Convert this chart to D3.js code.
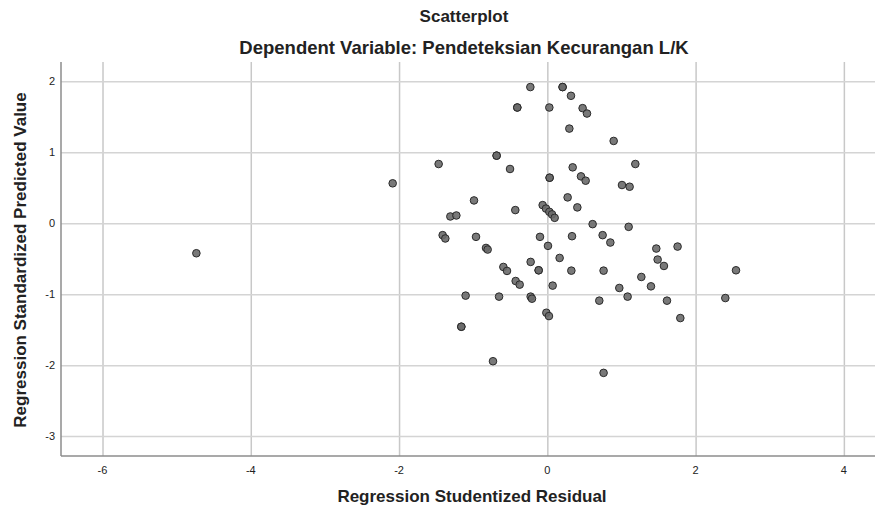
<!DOCTYPE html>
<html>
<head>
<meta charset="utf-8">
<script src="https://cdn.jsdelivr.net/npm/d3@7"></script>
<style>
  body { margin: 0; background: #fff; }
  text { font-family: "Liberation Sans", Arial, sans-serif; fill: #222; }
</style>
</head>
<body>
<svg id="chart" width="875" height="508"></svg>
<script>
// residual (x) and predicted value (y)
const residual = [
  -0.229, 0.206, 0.206, 0.319, -0.405, -0.405, 0.027, 0.476, 0.535, 0.297,
  0.895, -0.684, -0.684, -1.466, 1.187, -0.503, 0.342, 0.454, 0.517, 0.031,
  0.031, 1.007, 1.110, -2.086, -0.989, 0.274, 0.405, -0.432, -1.308, -1.227,
  -0.063, -0.018, 0.027, 0.063, 0.099, 0.611, 1.097, -1.412, -1.376, -0.962,
  -0.827, -0.805, -0.099, 0.333, 0.009, 0.166, -0.225, -0.117, -0.117, 0.324,
  -0.593, -0.544, -0.427, -0.373, 0.072, -1.102, -0.651, -0.225, -0.207, -0.013,
  0.022, -1.160, -1.160, -0.733, 0.746, 0.850, 1.470, 1.757, 1.488, 1.573,
  0.759, 1.268, 0.971, 1.398, 1.083, 0.701, 1.614, 1.794, 2.545, 2.401,
  0.759, -4.734
];
const predicted = [
  1.917, 1.917, 1.917, 1.794, 1.629, 1.629, 1.629, 1.620, 1.544, 1.332,
  1.158, 0.951, 0.951, 0.833, 0.833, 0.763, 0.786, 0.659, 0.598, 0.640,
  0.640, 0.537, 0.513, 0.561, 0.320, 0.363, 0.222, 0.184, 0.094, 0.108,
  0.254, 0.205, 0.160, 0.124, 0.075, -0.014, -0.052, -0.169, -0.216, -0.193,
  -0.349, -0.372, -0.193, -0.184, -0.320, -0.490, -0.546, -0.664, -0.664, -0.669,
  -0.617, -0.673, -0.815, -0.866, -0.880, -1.021, -1.035, -1.035, -1.064, -1.262,
  -1.309, -1.459, -1.459, -1.945, -0.169, -0.273, -0.358, -0.330, -0.513, -0.603,
  -0.669, -0.758, -0.913, -0.890, -1.035, -1.092, -1.092, -1.337, -0.664, -1.055,
  -2.109, -0.424
];
const xTicks = [-6, -4, -2, 0, 2, 4];
const yTicks = [-3, -2, -1, 0, 1, 2];

const points = residual.map((r, i) => ({x: r, y: predicted[i]}));

const svg = d3.select("#chart");
const plotL = 61, plotR = 875, plotT = 62, plotB = 456;

const x = d3.scaleLinear().domain([-6.56, 4.42]).range([plotL, plotR]);
const y = d3.scaleLinear().domain([-3.28, 2.27]).range([plotB, plotT]);

// grid lines
svg.append("g")
    .attr("transform", `translate(0,${plotB})`)
    .call(d3.axisBottom(x).tickValues(xTicks).tickSize(-(plotB - plotT)).tickFormat(""))
    .call(g => g.select(".domain").remove())
    .selectAll("line").attr("stroke", "#c8c8c8").attr("stroke-width", 1.5);

svg.append("g")
    .attr("transform", `translate(${plotL},0)`)
    .call(d3.axisLeft(y).tickValues(yTicks).tickSize(-(plotR - plotL)).tickFormat(""))
    .call(g => g.select(".domain").remove())
    .selectAll("line").attr("stroke", "#d4d4d4").attr("stroke-width", 1.5);

// axis lines
svg.append("line").attr("x1", plotL).attr("x2", plotL).attr("y1", plotT).attr("y2", plotB)
    .attr("stroke", "#8c8c8c").attr("stroke-width", 1.5);
svg.append("line").attr("x1", plotL).attr("x2", plotR).attr("y1", plotB).attr("y2", plotB)
    .attr("stroke", "#8c8c8c").attr("stroke-width", 1.5);

// tick labels
svg.append("g").selectAll("text")
    .data(xTicks).enter().append("text")
    .attr("x", d => x(d)).attr("y", plotB + 18)
    .attr("text-anchor", "middle").attr("font-size", 11)
    .text(d => d);

svg.append("g").selectAll("text")
    .data(yTicks).enter().append("text")
    .attr("x", plotL - 6).attr("y", d => y(d) + 4)
    .attr("text-anchor", "end").attr("font-size", 11)
    .text(d => d);

// the points
svg.append("g").selectAll("circle")
    .data(points).enter().append("circle")
    .attr("cx", d => x(d.x)).attr("cy", d => y(d.y))
    .attr("r", 3.8)
    .attr("fill", "#6a6a6a").attr("fill-opacity", 0.9)
    .attr("stroke", "#2a2a2a").attr("stroke-width", 1);

// titles
svg.append("text").attr("x", 464).attr("y", 22)
    .attr("text-anchor", "middle").attr("font-size", 17).attr("font-weight", "bold")
    .text("Scatterplot");
svg.append("text").attr("x", 464).attr("y", 54)
    .attr("text-anchor", "middle").attr("font-size", 18.5).attr("font-weight", "bold")
    .text("Dependent Variable: Pendeteksian Kecurangan L/K");

svg.append("text").attr("x", 472).attr("y", 502)
    .attr("text-anchor", "middle").attr("font-size", 17).attr("font-weight", "bold")
    .text("Regression Studentized Residual");
svg.append("text")
    .attr("transform", `translate(26,260) rotate(-90)`)
    .attr("text-anchor", "middle").attr("font-size", 17).attr("font-weight", "bold")
    .text("Regression Standardized Predicted Value");
</script>
</body>
</html>
